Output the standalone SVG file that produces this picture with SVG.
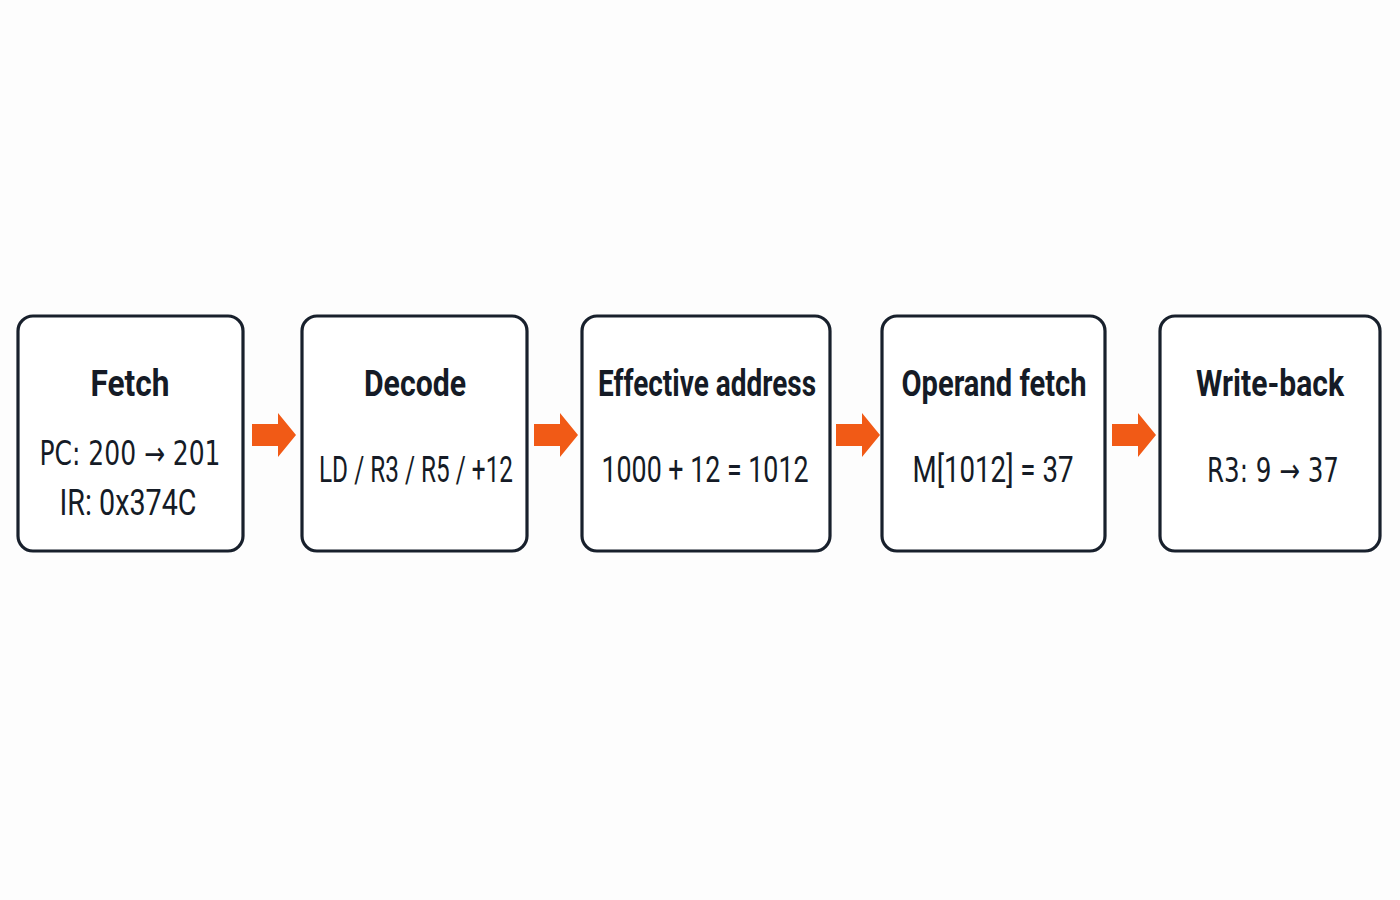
<svg xmlns="http://www.w3.org/2000/svg" xmlns:xlink="http://www.w3.org/1999/xlink" width="1400" height="900" viewBox="0 0 1400 900">
<style>
.box{fill:#ffffff;stroke:#18202c;stroke-width:3.2}
.title{font-family:Roboto,"Liberation Sans",sans-serif;font-weight:700;font-size:36px;fill:#151b26;text-anchor:middle}
.body{font-family:Roboto,"Liberation Sans",sans-serif;font-weight:400;font-size:36px;fill:#151b26;text-anchor:middle}
.body.ar{font-family:"DejaVu Sans Condensed","DejaVu Sans",sans-serif;font-size:33px}
.arrow{fill:#f15a16}
</style>
<defs>
<path id="blk" d="M0,-11 H26 V-22 L44,0 L26,22 V11 H0 Z"/>
</defs>
<rect width="1400" height="900" fill="#fdfdfd"/>
<g id="connectors">
<use xlink:href="#blk" href="#blk" class="arrow" transform="translate(252,435)"/>
<use xlink:href="#blk" href="#blk" class="arrow" transform="translate(534,435)"/>
<use xlink:href="#blk" href="#blk" class="arrow" transform="translate(836,435)"/>
<use xlink:href="#blk" href="#blk" class="arrow" transform="translate(1112,435)"/>
</g>
<g id="fetch">
<rect class="box" x="18" y="316" width="225" height="235" rx="15"/>
<text class="title" x="130" y="396" textLength="79" lengthAdjust="spacingAndGlyphs">Fetch</text>
<text class="body ar" x="130" y="465" textLength="181" lengthAdjust="spacingAndGlyphs">PC: 200 → 201</text>
<text class="body" x="128" y="515" textLength="137" lengthAdjust="spacingAndGlyphs">IR: 0x374C</text>
</g>
<g id="decode">
<rect class="box" x="302" y="316" width="225" height="235" rx="15"/>
<text class="title" x="415" y="396" textLength="102" lengthAdjust="spacingAndGlyphs">Decode</text>
<text class="body" x="416" y="482" textLength="194" lengthAdjust="spacingAndGlyphs">LD / R3 / R5 / +12</text>
</g>
<g id="effective-address">
<rect class="box" x="582" y="316" width="248" height="235" rx="15"/>
<text class="title" x="707" y="396" textLength="218" lengthAdjust="spacingAndGlyphs">Effective address</text>
<text class="body" x="705" y="482" textLength="207" lengthAdjust="spacingAndGlyphs">1000 + 12 = 1012</text>
</g>
<g id="operand-fetch">
<rect class="box" x="882" y="316" width="223" height="235" rx="15"/>
<text class="title" x="994" y="396" textLength="185" lengthAdjust="spacingAndGlyphs">Operand fetch</text>
<text class="body" x="993" y="482" textLength="161" lengthAdjust="spacingAndGlyphs">M[1012] = 37</text>
</g>
<g id="write-back">
<rect class="box" x="1160" y="316" width="220" height="235" rx="15"/>
<text class="title" x="1270" y="396" textLength="148" lengthAdjust="spacingAndGlyphs">Write-back</text>
<text class="body ar" x="1273" y="482" textLength="132" lengthAdjust="spacingAndGlyphs">R3: 9 → 37</text>
</g>
</svg>
